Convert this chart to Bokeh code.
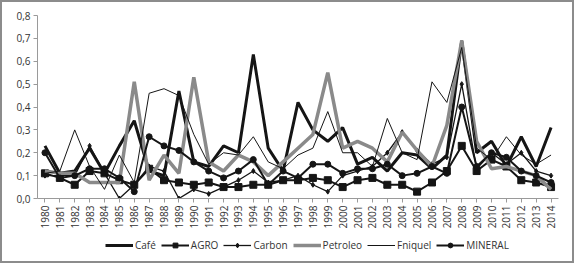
from bokeh.plotting import figure
from bokeh.layouts import column
from bokeh.models import FactorRange, FixedTicker, CustomJSTickFormatter, Legend, LegendItem
from bokeh.embed import file_html
from bokeh.resources import INLINE
import math

years = [str(y) for y in range(1980, 2015)]

cafe = [0.23, 0.11, 0.12, 0.22, 0.11, 0.23, 0.34, 0.12, 0.10, 0.47, 0.16, 0.14,
        0.23, 0.20, 0.63, 0.22, 0.12, 0.42, 0.30, 0.25, 0.31, 0.15, 0.18, 0.12,
        0.20, 0.19, 0.13, 0.19, 0.69, 0.20, 0.25, 0.14, 0.27, 0.14, 0.31]
agro = [0.11, 0.09, 0.06, 0.12, 0.11, 0.08, 0.06, 0.13, 0.08, 0.07, 0.06, 0.07,
        0.05, 0.05, 0.06, 0.06, 0.08, 0.08, 0.09, 0.08, 0.05, 0.08, 0.09, 0.06,
        0.06, 0.03, 0.07, 0.12, 0.23, 0.12, 0.17, 0.14, 0.08, 0.07, 0.05]
carbon = [0.10, 0.10, 0.10, 0.23, 0.11, 0.00, 0.06, 0.14, 0.12, 0.00, 0.04, 0.02,
          0.05, 0.08, 0.12, 0.07, 0.08, 0.10, 0.06, 0.03, 0.10, 0.12, 0.14, 0.20,
          0.29, 0.21, 0.15, 0.18, 0.50, 0.13, 0.20, 0.15, 0.20, 0.12, 0.10]
petroleo = [0.12, 0.11, 0.11, 0.07, 0.07, 0.07, 0.51, 0.08, 0.19, 0.11, 0.53, 0.16,
            0.12, 0.19, 0.16, 0.10, 0.16, 0.22, 0.28, 0.55, 0.22, 0.25, 0.22, 0.16,
            0.29, 0.21, 0.14, 0.32, 0.69, 0.25, 0.13, 0.14, 0.12, 0.10, 0.04]
fniquel = [0.11, 0.12, 0.30, 0.14, 0.04, 0.19, 0.07, 0.46, 0.48, 0.45, 0.28, 0.15,
           0.20, 0.19, 0.27, 0.16, 0.13, 0.19, 0.22, 0.38, 0.20, 0.20, 0.14, 0.35,
           0.20, 0.17, 0.51, 0.42, 0.66, 0.22, 0.17, 0.27, 0.19, 0.15, 0.19]
mineral = [0.20, 0.09, 0.10, 0.13, 0.13, 0.09, 0.03, 0.27, 0.23, 0.21, 0.16, 0.12,
           0.09, 0.12, 0.17, 0.06, 0.12, 0.09, 0.15, 0.15, 0.11, 0.13, 0.13, 0.15,
           0.10, 0.11, 0.14, 0.11, 0.40, 0.14, 0.20, 0.18, 0.12, 0.10, 0.07]

y_ticks = [0.0, 0.1, 0.2, 0.3, 0.4, 0.5, 0.6, 0.7, 0.8]

FONT = "Open Sans"
BLACK = "#151515"
GRAY = "#8a8a8a"

# series styles (label, values, line colour, line width, marker, marker size)
styles = [
    ("Café", cafe, BLACK, 3, None, 0),
    ("AGRO", agro, BLACK, 2, "square", 7),
    ("Carbon", carbon, BLACK, 1.3, "diamond", 5),
    ("Petroleo", petroleo, GRAY, 3.5, None, 0),
    ("Fniquel", fniquel, BLACK, 1, None, 0),
    ("MINERAL", mineral, BLACK, 2, "circle", 6),
]

p = figure(width=570, height=229, x_range=FactorRange(*years, range_padding=0),
           y_range=(0, 0.8), output_backend="svg", toolbar_location=None,
           min_border_left=35, min_border_right=14, min_border_top=13, min_border_bottom=29)
p.outline_line_color = None
p.border_fill_color = "white"
p.xgrid.grid_line_color = None
p.ygrid.grid_line_color = None

p.yaxis.ticker = FixedTicker(ticks=y_ticks)
p.yaxis.formatter = CustomJSTickFormatter(code="return tick.toFixed(1).replace('.', ',');")
p.xaxis.major_label_orientation = math.pi / 2
for ax in (p.xaxis, p.yaxis):
    ax.axis_line_color = "#9a9a9a"
    ax.major_tick_line_color = "#9a9a9a"
    ax.minor_tick_line_color = None
    ax.major_label_text_font = FONT
    ax.major_label_text_font_size = "10px"
    ax.major_label_text_color = "#333333"
    ax.major_label_standoff = 3
p.yaxis.major_tick_in = 0
p.yaxis.major_tick_out = 4
p.xaxis.major_tick_in = 0
p.xaxis.major_tick_out = 4

for label, vals, col, lw, mk, ms in styles:
    p.line(years, vals, line_color=col, line_width=lw)
    if mk:
        p.scatter(years, vals, marker=mk, size=ms, color=col)

# legend strip below the chart (its renderers hold the same data, outside its view)
idx = list(range(len(years)))
lf = figure(width=570, height=30, x_range=(-100, -99), y_range=(-100, -99),
            output_backend="svg", toolbar_location=None,
            x_axis_location=None, y_axis_location=None,
            min_border_left=0, min_border_right=0, min_border_top=0, min_border_bottom=0)
lf.grid.visible = False
lf.outline_line_color = None
lf.border_fill_color = "white"

items = []
for label, vals, col, lw, mk, ms in styles:
    rs = [lf.line(idx, vals, line_color=col, line_width=lw)]
    if mk:
        rs.append(lf.scatter(idx, vals, marker=mk, size=max(ms - 2, 4), color=col))
    items.append(LegendItem(label=label, renderers=rs))

legend = Legend(items=items, orientation="horizontal", location=(68, 9))
legend.label_text_font = FONT
legend.label_text_font_size = "10px"
legend.label_text_color = "#333333"
legend.glyph_width = 28
legend.glyph_height = 12
legend.label_height = 14
legend.spacing = 5
legend.label_standoff = 2
legend.border_line_color = None
legend.background_fill_alpha = 0
legend.padding = 2
legend.margin = 0
lf.add_layout(legend, "center")

layout = column(p, lf, spacing=0)
layout.styles = {"border": "2px solid #8c8c8c"}

open("out.html", "w").write(file_html(layout, INLINE))
